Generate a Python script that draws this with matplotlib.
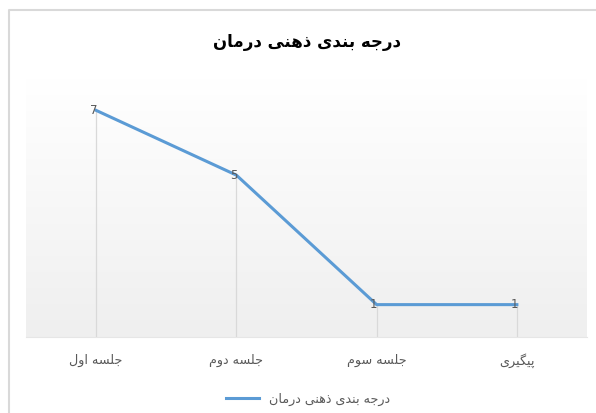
import matplotlib
matplotlib.use('Agg')
import matplotlib.pyplot as plt
import numpy as np

# data
categories = ['جلسه اول', 'جلسه دوم', 'جلسه سوم', 'پیگیری']
values = [7, 5, 1, 1]
series_name = 'درجه بندی ذهنی درمان'
title_text = 'درجه بندی ذهنی درمان'

# matplotlib does no Arabic shaping, so map letters to presentation forms
# (isolated, final, initial, medial) and flip to visual order
FORMS = {
    'ا': ('\uFE8D', '\uFE8E', None, None),
    'ب': ('\uFE8F', '\uFE90', '\uFE91', '\uFE92'),
    'پ': ('\uFB56', '\uFB57', '\uFB58', '\uFB59'),
    'ج': ('\uFE9D', '\uFE9E', '\uFE9F', '\uFEA0'),
    'د': ('\uFEA9', '\uFEAA', None, None),
    'ذ': ('\uFEAB', '\uFEAC', None, None),
    'ر': ('\uFEAD', '\uFEAE', None, None),
    'س': ('\uFEB1', '\uFEB2', '\uFEB3', '\uFEB4'),
    'گ': ('\uFB92', '\uFB93', '\uFB94', '\uFB95'),
    'ل': ('\uFEDD', '\uFEDE', '\uFEDF', '\uFEE0'),
    'م': ('\uFEE1', '\uFEE2', '\uFEE3', '\uFEE4'),
    'ن': ('\uFEE5', '\uFEE6', '\uFEE7', '\uFEE8'),
    'ه': ('\uFEE9', '\uFEEA', '\uFEEB', '\uFEEC'),
    'و': ('\uFEED', '\uFEEE', None, None),
    'ی': ('\uFBFC', '\uFBFD', '\uFBFE', '\uFBFF'),
}


def dual(c):
    return c in FORMS and FORMS[c][2] is not None


def shape(s):
    out = []
    for i, c in enumerate(s):
        if c not in FORMS:
            out.append(c)
            continue
        prev = s[i - 1] if i > 0 else ''
        nxt = s[i + 1] if i + 1 < len(s) else ''
        p = dual(prev)
        n = dual(c) and nxt in FORMS
        iso, fin, ini, med = FORMS[c]
        if p and n:
            out.append(med)
        elif p:
            out.append(fin)
        elif n:
            out.append(ini)
        else:
            out.append(iso)
    return ''.join(out)[::-1]


plt.rcParams['font.family'] = ['DejaVu Sans']

fig = plt.figure(figsize=(5.96, 4.13), dpi=100)
W, H = 596, 413

# outer chart frame: only left and top edges are inside the crop
fig.add_artist(plt.Line2D([9 / W, 9 / W, 1.0], [0.0, 1 - 10 / H, 1 - 10 / H],
                          transform=fig.transFigure, color='#d9d9d9',
                          linewidth=1.5))

ax = fig.add_axes([26 / W, (413 - 337) / H, (587 - 26) / W, (337 - 78) / H])
x = np.arange(len(categories))

# vertical gradient in the plot area
grad = np.linspace(1.0, 0.0, 256).reshape(-1, 1)
ax.imshow(grad, extent=[0, 1, 0, 1], transform=ax.transAxes, aspect='auto',
          cmap=matplotlib.colors.LinearSegmentedColormap.from_list(
              'bg', ['#efefef', '#ffffff']), zorder=0)

ax.vlines(x, 0, values, color='#d9d9d9', linewidth=0.9, zorder=1)
ax.plot(x, values, color='#5b9bd5', linewidth=2.2, solid_joinstyle='round',
        zorder=3)

for xi, v in zip(x, values):
    ax.annotate(str(v), (xi, v), xytext=(-2, 0), textcoords='offset points',
                ha='center', va='center', fontsize=8.5, color='#595959',
                zorder=4)

ax.set_xlim(-0.5, len(categories) - 0.5)
ax.set_ylim(0, 8)
ax.set_xticks(x)
ax.set_xticklabels([shape(c) for c in categories], fontsize=9.2,
                   color='#595959')
ax.tick_params(axis='x', length=0, pad=12)
ax.set_yticks([])
for side in ['top', 'left', 'right']:
    ax.spines[side].set_visible(False)
ax.spines['bottom'].set_color('#e6e6e6')

fig.text(307 / W, 1 - 42 / H, shape(title_text), ha='center', va='center',
         fontsize=12, fontweight='bold', color='black')

# legend drawn below the plot
leg_line = plt.Line2D([], [], color='#5b9bd5', linewidth=2.2)
fig.legend([leg_line], [shape(series_name)], loc='center',
           bbox_to_anchor=(308 / W, 1 - 399 / H), frameon=False,
           fontsize=9.2, handlelength=2.6, labelcolor='#595959')

fig.savefig('out.png', dpi=100)
